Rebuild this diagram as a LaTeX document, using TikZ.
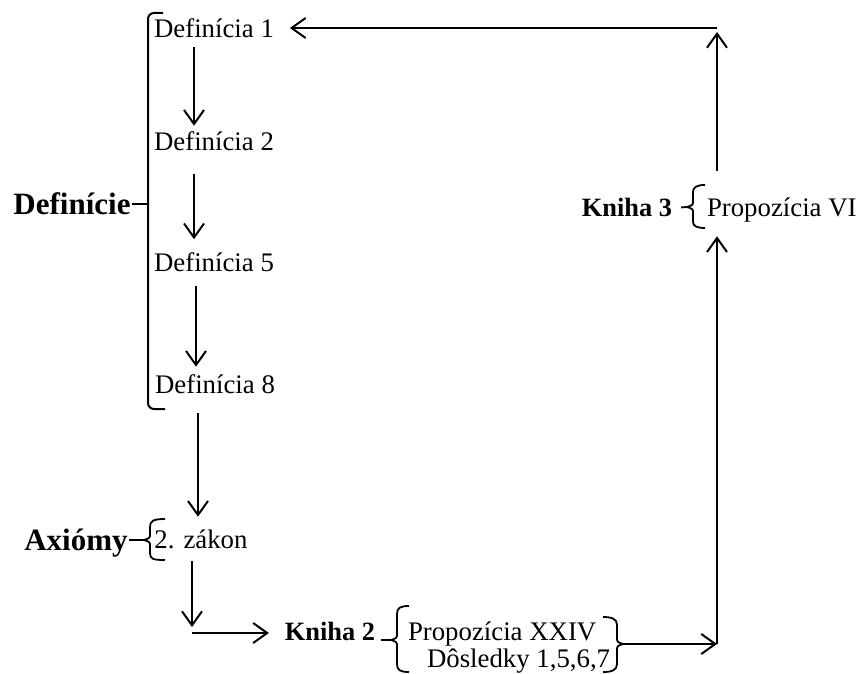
\documentclass[tikz,border=0pt]{standalone}
\usepackage{fontspec}
\setmainfont{Liberation Serif}
\usetikzlibrary{arrows.meta}

\begin{document}
\begin{tikzpicture}[x=0.5pt, y=-0.5pt, line width=1pt,
    txt/.style={inner sep=0pt, text height=8.8pt, text depth=0pt, font=\fontsize{13.4}{15}\selectfont},
    kn/.style={txt, font=\fontsize{13.2}{15}\selectfont\bfseries},
    lbl/.style={inner sep=0pt, text height=10.3pt, text depth=0pt, font=\fontsize{15.5}{18}\selectfont\bfseries},
    brc/.style={line width=0.9pt},
    arr/.style={-{Straight Barb[length=7pt, width=10pt]}}]
\useasboundingbox (0,0) rectangle (856,674);

% texts
\node[txt] (d1) at (214,29) {Definícia 1};
\node[txt] (d2) at (214,142) {Definícia 2};
\node[txt] (d5) at (214,263) {Definícia 5};
\node[txt] (d8) at (215,385) {Definícia 8};
\node[lbl] (definicie) at (72,204) {Definície};
\node[lbl] (axiomy) at (76,540) {Axiómy};
\node[txt] (zakon) at (201,540) {2. zákon};
\node[kn] (kniha2) at (330,632) {Kniha 2};
\node[txt, anchor=west] (prop24) at (407,632) {Propozícia XXIV};
\node[txt, anchor=west] (dosl) at (426,659) {Dôsledky 1,5,6,7};
\node[kn] (kniha3) at (627,208) {Kniha 3};
\node[txt, anchor=west] (prop6) at (706,208) {Propozícia VI};

\coordinate (turn) at (192,633);
\coordinate (cornerbot) at (717,644);
\coordinate (cornertop) at (717,28);
\coordinate (axtip) at (144,540);
\coordinate (k2tip) at (391,640);
\coordinate (r24tip) at (623,644);
\coordinate (k3tip) at (687,207);

% brackets
\draw[rounded corners=3pt] (163,13) -| (148,409) -- (165,409);
\draw (148,204) -- (definicie.east);
\draw[brc] (165,519) .. controls (153,519) and (150,521) .. (150,527) -- (150,534)
  .. controls (150,538) .. (axtip) .. controls (150,542) .. (150,546) -- (150,553)
  .. controls (150,559) and (153,560) .. (165,560);
\draw[brc] (axtip) -- (axiomy.east);
\draw[brc] (409,606) .. controls (400,606) and (397,608) .. (397,614) -- (397,633)
  .. controls (397,638) .. (k2tip) .. controls (397,642) .. (397,647) -- (397,664)
  .. controls (397,670) and (400,672) .. (409,672);
\draw[brc, shorten >=2.5pt] (k2tip) -- (k2tip -| kniha2.east);
\draw[brc] (603,617) .. controls (612,617) and (617,619) .. (617,625) -- (617,637)
  .. controls (617,642) .. (r24tip) .. controls (617,646) .. (617,651) -- (617,664)
  .. controls (617,670) and (612,672) .. (603,672);
\draw[brc] (705,185) .. controls (697,185) and (693,187) .. (693,192) -- (693,201)
  .. controls (693,205) .. (k3tip) .. controls (693,209) .. (693,213) -- (693,222)
  .. controls (693,226) and (697,228) .. (705,228);
\draw[brc, shorten >=4pt] (k3tip) -- (kniha3.east);

% arrows
\draw[arr, shorten <=4pt, shorten >=3.25pt] ([xshift=-10pt]d1.south) -- ([xshift=-10pt]d2.north);
\draw[arr, shorten <=11pt, shorten >=7pt] ([xshift=-10pt]d2.south) -- ([xshift=-10pt]d5.north);
\draw[arr, shorten <=6.75pt, shorten >=4.25pt] ([xshift=-9pt]d5.south) -- ([xshift=-9.5pt]d8.north);
\draw[arr, shorten <=9.25pt, shorten >=6.75pt] ([xshift=-8.5pt]d8.south) -- ([xshift=-1.5pt]zakon.north);
\draw[arr, shorten <=5.75pt] ([xshift=-4.5pt]zakon.south) -- ([yshift=3pt]turn);
\draw[arr, shorten >=7.5pt] (turn) -- (turn -| kniha2.west);
\draw[arr] (r24tip) -- (cornerbot);
\draw[arr, shorten >=9.25pt] (cornerbot) -- (cornerbot |- prop6.south);
\draw[arr, shorten <=13.75pt, shorten >=2pt] (cornertop |- prop6.north) -- (cornertop);
\draw[arr, shorten >=7.5pt] (cornertop) -- (cornertop -| d1.east);

\end{tikzpicture}
\end{document}
